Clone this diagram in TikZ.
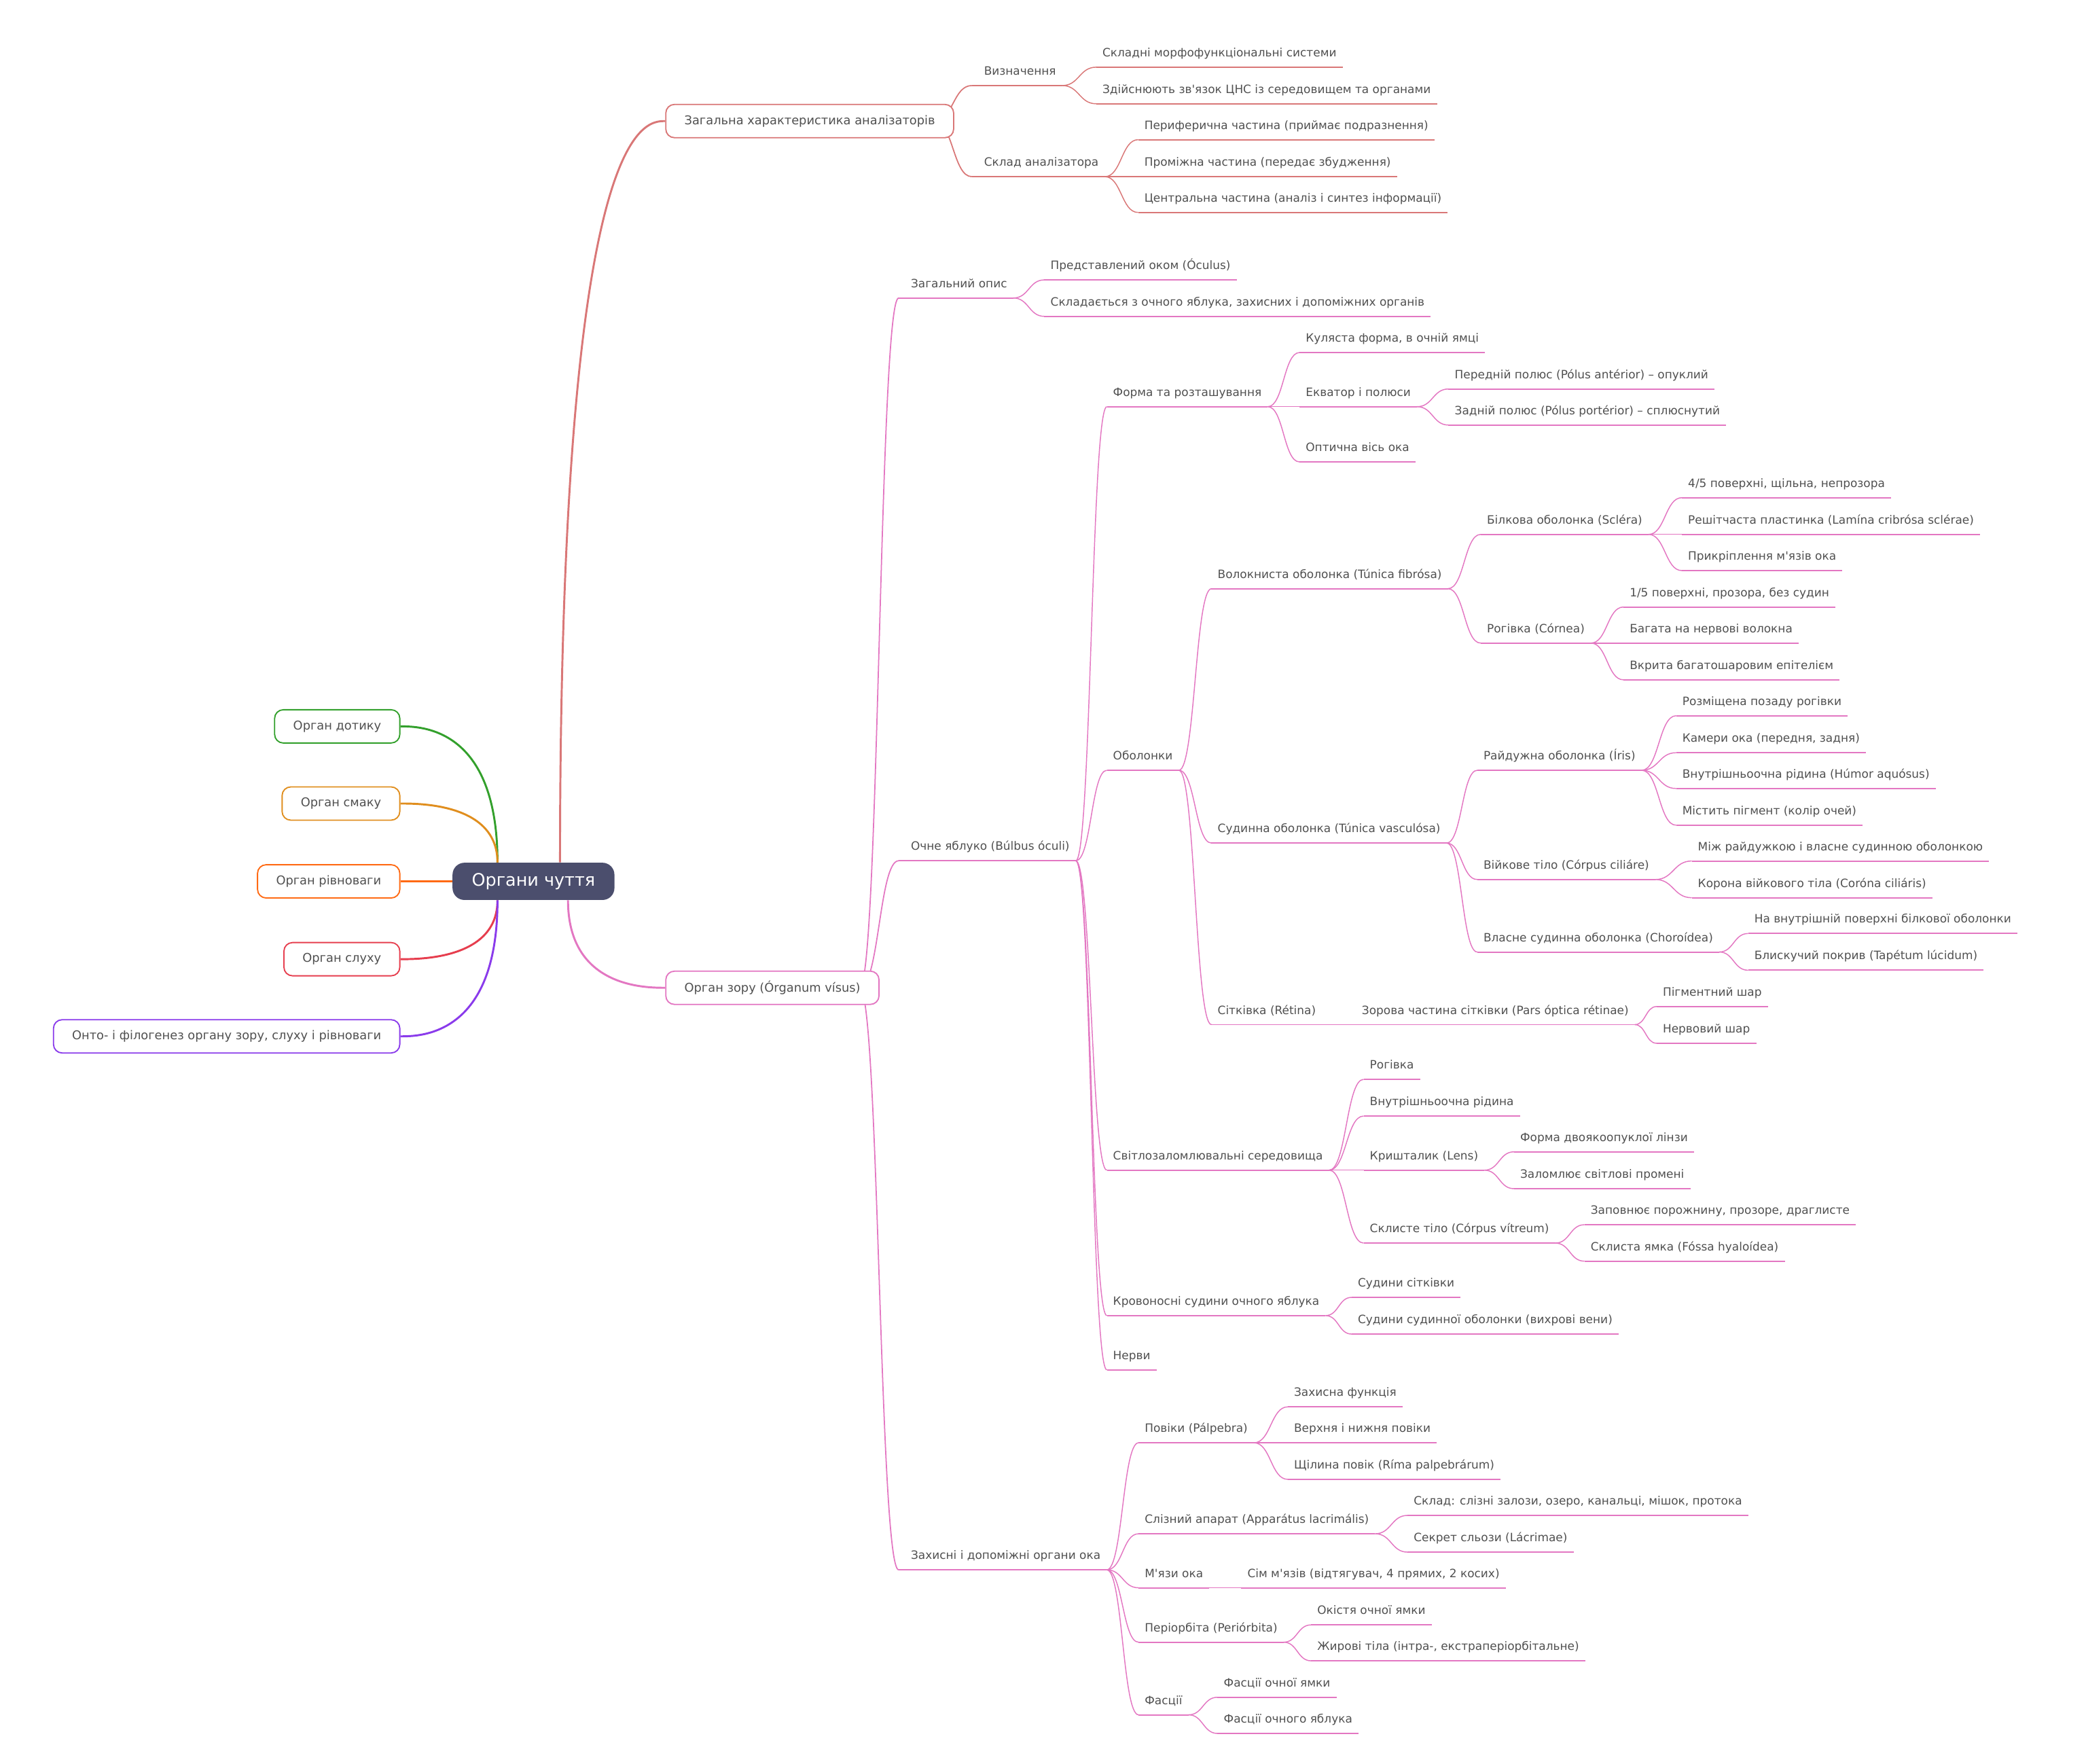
\documentclass[tikz,border=0pt]{standalone}
\usepackage{fontspec}
\newfontfamily\mmfont{DejaVu Sans}
\usetikzlibrary{calc,backgrounds}
\definecolor{pc}{HTML}{E377C2}
\definecolor{rc}{HTML}{D97777}
\definecolor{rootc}{HTML}{4B4E6D}
\definecolor{txt}{HTML}{505050}
\definecolor{gc}{HTML}{33A02C}
\definecolor{oca}{HTML}{E08E1E}
\definecolor{ocb}{HTML}{FF6A13}
\definecolor{redc}{HTML}{E63E4E}
\definecolor{purc}{HTML}{8A3BEB}
\newcommand\mmtxt{\mmfont\fontsize{8.65}{10}\selectfont}
\newcommand\mmboxtxt{\mmfont\fontsize{9.1}{11}\selectfont}
% link between underlined nodes (horizontal S-curve)
\newcommand\mmlink[3]{\draw[#1, line width=0.75pt] let \p1=(#2.south east), \p2=(#3.south west) in (\p1) .. controls ({(\x1+\x2)/2},\y1) and ({(\x1+\x2)/2},\y2) .. (\p2);}
% link from a boxed node to an underlined child
\newcommand\mmboxlink[3]{\draw[#1, line width=0.9pt] let \p1=([xshift=-15pt]#2.east), \p2=(#3.south west) in (\p1) .. controls ({(\x1+\x2)/2},\y1) and ({(\x1+\x2)/2},\y2) .. (\p2);}
% link from root to first-level boxes
\newcommand\mmrootlink[3]{\draw[#1, line width=1.5pt] let \p1=(#2), \p2=(#3) in (\p1) .. controls (\x1,\y2) and ({\x1+0.8*(\x2-\x1)},\y2) .. (\p2);}
\tikzset{
  leaf/.style={anchor=south west, inner xsep=4.5pt, inner ysep=0pt, text height=7pt, text depth=7.7pt, font=\mmtxt, text=txt},
  pleaf/.style={leaf, append after command={(\tikzlastnode.south west) edge[draw=pc, line width=1pt] (\tikzlastnode.south east)}},
  rleaf/.style={leaf, append after command={(\tikzlastnode.south west) edge[draw=rc, line width=1pt] (\tikzlastnode.south east)}},
  lvtwo/.style={execute at begin node={\hspace*{4.5pt}}},
  lbox/.style={draw=#1, fill=white, rounded corners=6.5pt, line width=0.95pt, minimum height=25pt, inner xsep=14pt, inner ysep=0pt, font=\mmboxtxt, text=txt},
  rootbox/.style={fill=rootc, text=white, rounded corners=9pt, minimum height=28pt, inner xsep=14.5pt, inner ysep=0pt, font=\mmfont\fontsize{13}{15}\selectfont}
}
\begin{document}
\begin{tikzpicture}[x=1pt,y=-1pt]
\useasboundingbox (0,0) rectangle (1568,1325.5);

% root and first level
\node[rootbox] (root) at (401,662.5) {Органи чуття};
\node[lbox=gc, anchor=east] (dot) at (301,546) {Орган дотику};
\node[lbox=oca, anchor=east] (sma) at (301,604) {Орган смаку};
\node[lbox=ocb, anchor=east] (riv) at (301,662.5) {Орган рівноваги};
\node[lbox=redc, anchor=east] (slu) at (301,721) {Орган слуху};
\node[lbox=purc, anchor=east] (ont) at (301,779) {Онто- і філогенез органу зору, слуху і рівноваги};
\node[lbox=rc, anchor=west] (zag) at (500,91) {Загальна характеристика аналізаторів};
\node[lbox=pc, anchor=west] (zir) at (500,742.5) {Орган зору (Órganum vísus)};
\coordinate (rtl) at ([xshift=34pt]root.north west);
\coordinate (rbl) at ([xshift=34pt]root.south west);
\coordinate (rtr) at ([xshift=81pt]root.north west);
\coordinate (rbr) at ([xshift=87pt]root.south west);

% top branch
\node[rleaf, lvtwo] (viz) at (730.5,64.3) {Визначення};
\node[rleaf] (viz1) at (824,50.5) {Складні морфофункціональні системи};
\node[rleaf] (viz2) at (824,78) {Здійснюють зв'язок ЦНС із середовищем та органами};
\node[rleaf, lvtwo] (skl) at (730.5,132.8) {Склад аналізатора};
\node[rleaf] (skl1) at (855.5,105) {Периферична частина (приймає подразнення)};
\node[rleaf] (skl2) at (855.5,132.8) {Проміжна частина (передає збудження)};
\node[rleaf] (skl3) at (855.5,159.7) {Центральна частина (аналіз і синтез інформації)};

% vision branch
\node[pleaf, lvtwo] (zop) at (675.5,224) {Загальний опис};
\node[pleaf] (zop1) at (785,210.4) {Представлений оком (Óculus)};
\node[pleaf] (zop2) at (785,237.8) {Складається з очного яблука, захисних і допоміжних органів};
\node[pleaf, lvtwo] (och) at (675.5,647) {Очне яблуко (Búlbus óculi)};
\node[pleaf] (fr) at (832,305.7) {Форма та розташування};
\node[pleaf] (fr1) at (976.8,265) {Куляста форма, в очній ямці};
\node[pleaf] (fr2) at (976.8,305.7) {Екватор і полюси};
\node[pleaf] (fr21) at (1088.8,292.4) {Передній полюс (Pólus antérior) – опуклий};
\node[pleaf] (fr22) at (1088.8,319.5) {Задній полюс (Pólus portérior) – сплюснутий};
\node[pleaf] (fr3) at (976.8,347.2) {Оптична вісь ока};
\node[pleaf] (obo) at (832,579) {Оболонки};
\node[pleaf] (vol) at (910.6,442.5) {Волокниста оболонка (Túnica fibrósa)};
\node[pleaf] (bil) at (1113,401.7) {Білкова оболонка (Scléra)};
\node[pleaf] (bil1) at (1264.2,374.1) {4/5 поверхні, щільна, непрозора};
\node[pleaf] (bil2) at (1264.2,401.7) {Решітчаста пластинка (Lamína cribrósa sclérae)};
\node[pleaf] (bil3) at (1264.2,428.9) {Прикріплення м'язів ока};
\node[pleaf] (rog) at (1113,483.4) {Рогівка (Córnea)};
\node[pleaf] (rog1) at (1220.3,456.3) {1/5 поверхні, прозора, без судин};
\node[pleaf] (rog2) at (1220.3,483.4) {Багата на нервові волокна};
\node[pleaf] (rog3) at (1220.3,511) {Вкрита багатошаровим епітелієм};
\node[pleaf] (sud) at (910.6,633.7) {Судинна оболонка (Túnica vasculósa)};
\node[pleaf] (ray) at (1110.4,579) {Райдужна оболонка (Íris)};
\node[pleaf] (ray1) at (1259.9,538) {Розміщена позаду рогівки};
\node[pleaf] (ray2) at (1259.9,565.8) {Камери ока (передня, задня)};
\node[pleaf] (ray3) at (1259.9,592.7) {Внутрішньоочна рідина (Húmor aquósus)};
\node[pleaf] (ray4) at (1259.9,620.3) {Містить пігмент (колір очей)};
\node[pleaf] (viy) at (1110.4,661.1) {Війкове тіло (Córpus ciliáre)};
\node[pleaf] (viy1) at (1271.6,647.2) {Між райдужкою і власне судинною оболонкою};
\node[pleaf] (viy2) at (1271.6,674.8) {Корона війкового тіла (Coróna ciliáris)};
\node[pleaf] (vla) at (1110.4,715.6) {Власне судинна оболонка (Choroídea)};
\node[pleaf] (vla1) at (1314,701.7) {На внутрішній поверхні білкової оболонки};
\node[pleaf] (vla2) at (1314,729.3) {Блискучий покрив (Tapétum lúcidum)};
\node[pleaf] (sit) at (910.6,770.2) {Сітківка (Rétina)};
\node[pleaf] (zor) at (1019,770.2) {Зорова частина сітківки (Pars óptica rétinae)};
\node[pleaf] (zor1) at (1245.2,756.6) {Пігментний шар};
\node[pleaf] (zor2) at (1245.2,784.2) {Нервовий шар};
\node[pleaf] (svi) at (832,879.6) {Світлозаломлювальні середовища};
\node[pleaf] (svi1) at (1025,811.3) {Рогівка};
\node[pleaf] (svi2) at (1025,838.9) {Внутрішньоочна рідина};
\node[pleaf] (svi3) at (1025,879.6) {Кришталик (Lens)};
\node[pleaf] (kr1) at (1138,865.8) {Форма двоякоопуклої лінзи};
\node[pleaf] (kr2) at (1138,893.5) {Заломлює світлові промені};
\node[pleaf] (svi4) at (1025,934.4) {Склисте тіло (Córpus vítreum)};
\node[pleaf] (sk1) at (1191,920.6) {Заповнює порожнину, прозоре, драглисте};
\node[pleaf] (sk2) at (1191,948) {Склиста ямка (Fóssa hyaloídea)};
\node[pleaf] (kro) at (832,988.9) {Кровоносні судини очного яблука};
\node[pleaf] (kro1) at (1016,975.2) {Судини сітківки};
\node[pleaf] (kro2) at (1016,1002.8) {Судини судинної оболонки (вихрові вени)};
\node[pleaf] (ner) at (832,1029.7) {Нерви};
\node[pleaf, lvtwo] (zah) at (675.5,1180) {Захисні і допоміжні органи ока};
\node[pleaf] (pov) at (855.8,1084.5) {Повіки (Pálpebra)};
\node[pleaf] (pov1) at (968,1057.5) {Захисна функція};
\node[pleaf] (pov2) at (968,1084.5) {Верхня і нижня повіки};
\node[pleaf] (pov3) at (968,1112) {Щілина повік (Ríma palpebrárum)};
\node[pleaf] (sli) at (855.8,1152.9) {Слізний апарат (Apparátus lacrimális)};
\node[pleaf] (sli1) at (1058,1139.1) {Склад: слізні залози, озеро, канальці, мішок, протока};
\node[pleaf] (sli2) at (1058,1166.7) {Секрет сльози (Lácrimae)};
\node[pleaf] (mya) at (855.8,1193.5) {М'язи ока};
\node[pleaf] (mya1) at (933,1193.5) {Сім м'язів (відтягувач, 4 прямих, 2 косих)};
\node[pleaf] (per) at (855.8,1234.4) {Періорбіта (Periórbita)};
\node[pleaf] (per1) at (985.5,1221.4) {Окістя очної ямки};
\node[pleaf] (per2) at (985.5,1248.4) {Жирові тіла (інтра-, екстраперіорбітальне)};
\node[pleaf] (fas) at (855.8,1289) {Фасції};
\node[pleaf] (fas1) at (915.2,1275.8) {Фасції очної ямки};
\node[pleaf] (fas2) at (915.2,1303) {Фасції очного яблука};

\begin{pgfonlayer}{background}
% root links
\mmrootlink{gc}{rtl}{dot.east}
\mmrootlink{oca}{rtl}{sma.east}
\draw[ocb, line width=1.5pt] (root.west) -- (riv.east);
\mmrootlink{redc}{rbl}{slu.east}
\mmrootlink{purc}{rbl}{ont.east}
\mmrootlink{rc}{rtr}{zag.west}
\mmrootlink{pc}{rbr}{zir.west}
% top branch
\mmboxlink{rc}{zag}{viz}
\mmboxlink{rc}{zag}{skl}
\foreach \c in {viz1,viz2} {\mmlink{rc}{viz}{\c}}
\foreach \c in {skl1,skl2,skl3} {\mmlink{rc}{skl}{\c}}
% vision branch
\mmboxlink{pc}{zir}{zop}
\mmboxlink{pc}{zir}{och}
\mmboxlink{pc}{zir}{zah}
\foreach \c in {zop1,zop2} {\mmlink{pc}{zop}{\c}}
\foreach \c in {fr,obo,svi,kro,ner} {\mmlink{pc}{och}{\c}}
\foreach \c in {fr1,fr2,fr3} {\mmlink{pc}{fr}{\c}}
\foreach \c in {fr21,fr22} {\mmlink{pc}{fr2}{\c}}
\foreach \c in {vol,sud,sit} {\mmlink{pc}{obo}{\c}}
\foreach \c in {bil,rog} {\mmlink{pc}{vol}{\c}}
\foreach \c in {bil1,bil2,bil3} {\mmlink{pc}{bil}{\c}}
\foreach \c in {rog1,rog2,rog3} {\mmlink{pc}{rog}{\c}}
\foreach \c in {ray,viy,vla} {\mmlink{pc}{sud}{\c}}
\foreach \c in {ray1,ray2,ray3,ray4} {\mmlink{pc}{ray}{\c}}
\foreach \c in {viy1,viy2} {\mmlink{pc}{viy}{\c}}
\foreach \c in {vla1,vla2} {\mmlink{pc}{vla}{\c}}
\mmlink{pc}{sit}{zor}
\foreach \c in {zor1,zor2} {\mmlink{pc}{zor}{\c}}
\foreach \c in {svi1,svi2,svi3,svi4} {\mmlink{pc}{svi}{\c}}
\foreach \c in {kr1,kr2} {\mmlink{pc}{svi3}{\c}}
\foreach \c in {sk1,sk2} {\mmlink{pc}{svi4}{\c}}
\foreach \c in {kro1,kro2} {\mmlink{pc}{kro}{\c}}
\foreach \c in {pov,sli,mya,per,fas} {\mmlink{pc}{zah}{\c}}
\foreach \c in {pov1,pov2,pov3} {\mmlink{pc}{pov}{\c}}
\foreach \c in {sli1,sli2} {\mmlink{pc}{sli}{\c}}
\mmlink{pc}{mya}{mya1}
\foreach \c in {per1,per2} {\mmlink{pc}{per}{\c}}
\foreach \c in {fas1,fas2} {\mmlink{pc}{fas}{\c}}
\end{pgfonlayer}
\end{tikzpicture}
\end{document}
